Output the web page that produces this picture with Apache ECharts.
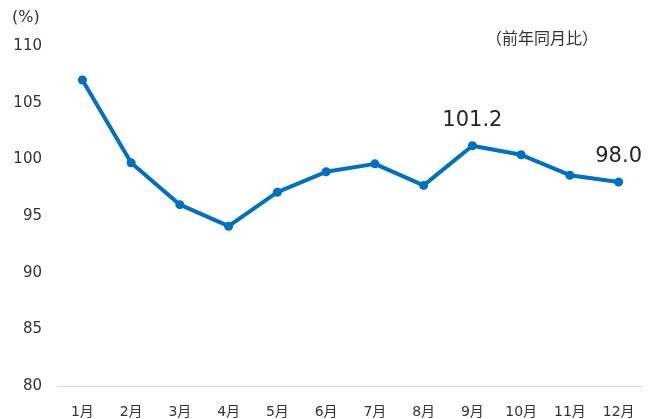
<!DOCTYPE html>
<html>
<head>
<meta charset="utf-8">
<script src="https://cdn.jsdelivr.net/npm/echarts@6/dist/echarts.min.js"></script>
<style>
  html, body { margin: 0; padding: 0; background: #fff; }
  #chart { width: 660px; height: 419px; }
</style>
</head>
<body>
<div id="chart"></div>
<script>
const months = ['1月', '2月', '3月', '4月', '5月', '6月', '7月', '8月', '9月', '10月', '11月', '12月'];
const values = [107.0, 99.7, 96.0, 94.1, 97.1, 98.9, 99.6, 97.7, 101.2, 100.4, 98.6, 98.0];
const labelled = ['9月', '12月'];

const fontFamily = '"DejaVu Sans", "Noto Sans CJK JP", sans-serif';

const chart = echarts.init(document.getElementById('chart'), null, { renderer: 'canvas' });

const option = {
  backgroundColor: '#fff',
  animation: false,
  textStyle: { fontFamily: fontFamily },
  grid: { left: 58, right: 17, top: 46, bottom: 33 },
  graphic: [
    { type: 'text', left: 12, top: 10, style: { text: '(%)', fontSize: 16, fill: '#333', fontFamily: fontFamily } },
    { type: 'text', left: 486, top: 32, style: { text: '（前年同月比）', fontSize: 16, fill: '#333', fontFamily: fontFamily } }
  ],
  xAxis: {
    type: 'category',
    data: months,
    boundaryGap: true,
    axisLine: { lineStyle: { color: '#d9d9d9', width: 1 } },
    axisTick: { show: false },
    axisLabel: { color: '#333', fontSize: 14, margin: 19, fontFamily: fontFamily },
    splitLine: { show: false }
  },
  yAxis: {
    type: 'value',
    min: 80,
    max: 110,
    interval: 5,
    axisLine: { show: false },
    axisTick: { show: false },
    axisLabel: { color: '#333', fontSize: 15, margin: 16, fontFamily: fontFamily },
    splitLine: { show: false }
  },
  series: [
    {
      type: 'line',
      data: values.map((v, i) => ({
        value: v,
        label: {
          show: labelled.includes(months[i]),
          position: 'top',
          distance: 10,
          formatter: p => p.value.toFixed(1),
          fontSize: 21,
          color: '#262626',
          fontFamily: fontFamily
        }
      })),
      symbol: 'circle',
      symbolSize: 9,
      itemStyle: { color: '#0070c0' },
      lineStyle: { color: '#0070c0', width: 4 }
    }
  ]
};

chart.setOption(option);
</script>
</body>
</html>
